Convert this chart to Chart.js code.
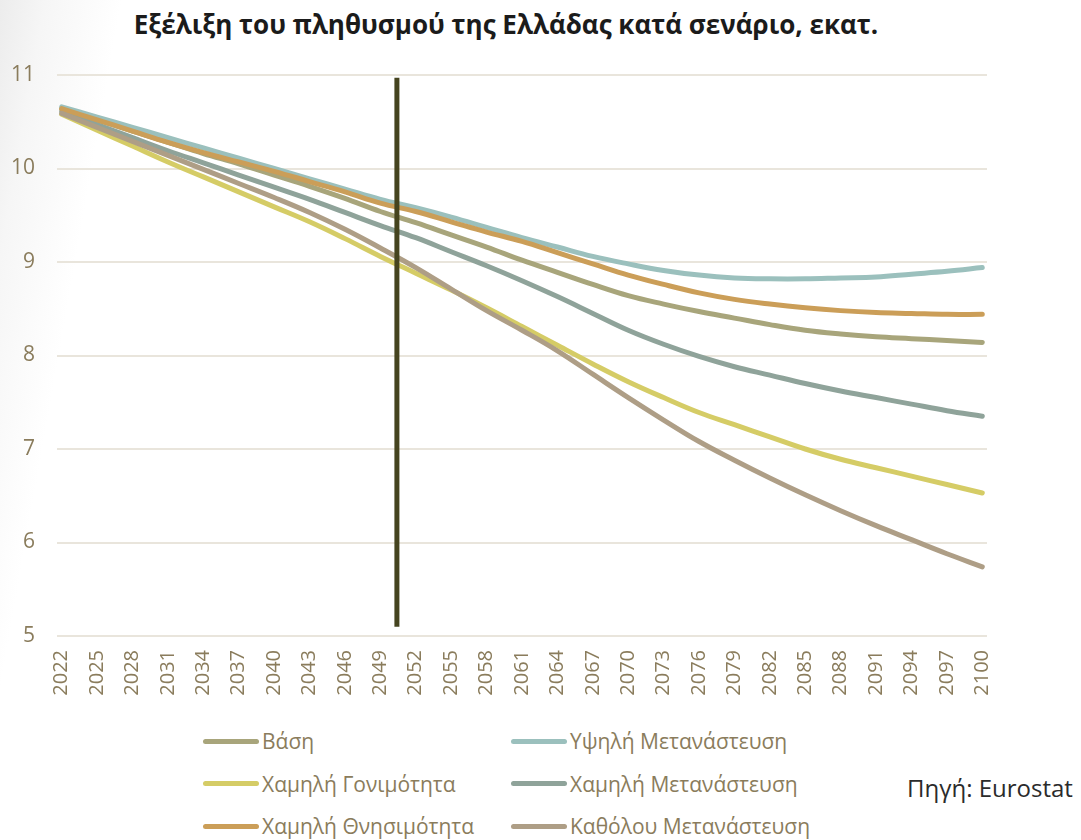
<!DOCTYPE html>
<html lang="el">
<head>
<meta charset="utf-8">
<script src="https://cdn.jsdelivr.net/npm/chart.js@4.4.1/dist/chart.umd.min.js"></script>
<style>
  html, body { margin: 0; padding: 0; }
  body {
    width: 1081px; height: 840px; position: relative; overflow: hidden;
    background: linear-gradient(100deg, #ececec 0px, #f6f6f6 45px, #ffffff 120px);
    font-family: "Open Sans", sans-serif;
  }
  #title {
    position: absolute; left: 0; top: 6px; width: 1012px; text-align: center;
    font-weight: bold; font-size: 26px; color: #1b1b1b;
  }
  #chartBox { position: absolute; left: 0; top: 0; width: 1081px; height: 720px; }
  .leg { position: absolute; display: flex; align-items: center; font-size: 21px; color: #8a7c5c; white-space: nowrap; line-height: 30px; }
  .leg span.ln { display: inline-block; width: 56px; height: 5px; border-radius: 3px; margin-right: 3px; }
  #source { position: absolute; left: 907px; top: 771px; font-size: 24px; color: #2b2b2b; }
</style>
</head>
<body>
<div id="title">Εξέλιξη του πληθυσμού της Ελλάδας κατά σενάριο, εκατ.</div>
<div id="chartBox"><canvas id="popChart"></canvas></div>
<div id="legend"></div>
<div id="source">Πηγή: Eurostat</div>
<script>
      /* ---------- DATA ---------- */
      const years = [
        2022, 2025, 2028, 2031, 2034, 2037, 2040, 2043, 2046, 2049, 2052, 2055,
        2058, 2061, 2064, 2067, 2070, 2073, 2076, 2079, 2082, 2085, 2088, 2091,
        2094, 2097, 2100,
      ];
      const seriesNames = [
        "Βάση",
        "Υψηλή Μετανάστευση",
        "Χαμηλή Γονιμότητα",
        "Χαμηλή Μετανάστευση",
        "Χαμηλή Θνησιμότητα",
        "Καθόλου Μετανάστευση",
      ];
      const baseline = [
        10.64, 10.52, 10.4, 10.28, 10.16, 10.05, 9.93, 9.81, 9.68, 9.54, 9.42,
        9.29, 9.16, 9.02, 8.89, 8.76, 8.64, 8.55, 8.47, 8.4, 8.33, 8.27, 8.23,
        8.2, 8.18, 8.16, 8.14,
      ];
      const highMigration = [
        10.66, 10.55, 10.44, 10.33, 10.22, 10.11, 10.0, 9.89, 9.78, 9.67, 9.58,
        9.48, 9.37, 9.26, 9.16, 9.06, 8.98, 8.91, 8.86, 8.83, 8.82, 8.82, 8.83,
        8.84, 8.87, 8.9, 8.94,
      ];
      const lowFertility = [
        10.58, 10.41, 10.24, 10.07, 9.91, 9.75, 9.59, 9.43, 9.25, 9.06, 8.88,
        8.7, 8.51, 8.31, 8.11, 7.91, 7.72, 7.55, 7.39, 7.26, 7.13, 7.0, 6.89,
        6.8, 6.71, 6.62, 6.53,
      ];
      const lowMigration = [
        10.61, 10.47, 10.33, 10.19, 10.06, 9.93, 9.8, 9.67, 9.53, 9.39, 9.26,
        9.11, 8.96, 8.8, 8.63, 8.45, 8.27, 8.12, 7.99, 7.88, 7.79, 7.7, 7.62,
        7.55, 7.48, 7.41, 7.35,
      ];
      const lowMortality = [
        10.64, 10.52, 10.4, 10.28, 10.17, 10.07, 9.97, 9.86, 9.75, 9.63, 9.54,
        9.43, 9.32, 9.22, 9.1, 8.98, 8.86, 8.76, 8.67, 8.6, 8.55, 8.51, 8.48,
        8.46, 8.45, 8.44, 8.44,
      ];
      const noMigration = [
        10.59, 10.44, 10.29, 10.14, 9.99, 9.84, 9.69, 9.53, 9.35, 9.15, 8.94,
        8.71, 8.48, 8.27, 8.05, 7.8, 7.55, 7.31, 7.08, 6.88, 6.69, 6.51, 6.34,
        6.18, 6.03, 5.88, 5.74,
      ];
      const yTicks = [5, 6, 7, 8, 9, 10, 11];
      // the divider sits just after the 2050 point in the original
      const markerYear = 2050.4;

      /* ---------- COLORS ---------- */
      const seriesColors = [
        "#a8a57b",
        "#9bc0bd",
        "#d5cc66",
        "#8fa39a",
        "#cb9e58",
        "#ae9e86",
      ];
      const tickColor = "#8a7c5c";
      const gridColor = "#e9e5dc";
      const markerColor = "#45441f";

      const seriesData = [
        baseline,
        highMigration,
        lowFertility,
        lowMigration,
        lowMortality,
        noMigration,
      ];

      /* ---------- LEGEND (HTML) ---------- */
      const legendEl = document.getElementById("legend");
      seriesNames.forEach((name, i) => {
        const item = document.createElement("div");
        item.className = "leg";
        item.style.left = (i % 2 === 0 ? 203 : 511) + "px";
        item.style.top = 726 + Math.floor(i / 2) * 42.5 + "px";
        item.innerHTML =
          '<span class="ln" style="background:' +
          seriesColors[i] +
          '"></span>' +
          name;
        legendEl.appendChild(item);
      });

      /* ---------- CHART ---------- */
      const datasets = seriesNames.map((name, i) => ({
        label: name,
        data: years.map((yr, j) => ({ x: yr, y: seriesData[i][j] })),
        borderColor: seriesColors[i],
        backgroundColor: seriesColors[i],
        borderWidth: 5,
        borderCapStyle: "round",
        borderJoinStyle: "round",
        pointRadius: 0,
        tension: 0.4,
        order: seriesNames.length - i,
      }));

      datasets.push({
        label: "2050",
        data: [
          { x: markerYear, y: 5.1 },
          { x: markerYear, y: 10.97 },
        ],
        borderColor: markerColor,
        borderWidth: 5,
        pointRadius: 0,
        order: 0,
      });

      Chart.defaults.font.family = "'Open Sans', sans-serif";

      new Chart(document.getElementById("popChart"), {
        type: "line",
        data: { datasets },
        options: {
          responsive: true,
          maintainAspectRatio: false,
          animation: false,
          layout: { padding: { top: 75, right: 94, left: 0, bottom: 0 } },
          plugins: {
            legend: { display: false },
            tooltip: { enabled: false },
          },
          scales: {
            x: {
              type: "linear",
              min: 2021.6,
              max: 2100.4,
              afterBuildTicks: (scale) => {
                scale.ticks = years.map((v) => ({ value: v }));
              },
              afterFit: (scale) => {
                scale.height = 84;
              },
              grid: { display: false, drawTicks: false },
              border: { display: false },
              ticks: {
                autoSkip: false,
                maxRotation: 90,
                minRotation: 90,
                padding: 14,
                color: tickColor,
                font: { size: 20 },
                callback: (v) => String(v),
              },
            },
            y: {
              min: 5,
              max: 11,
              afterBuildTicks: (scale) => {
                scale.ticks = yTicks.map((v) => ({ value: v }));
              },
              afterFit: (scale) => {
                scale.width = 57;
              },
              grid: { color: gridColor, lineWidth: 2, drawTicks: false },
              border: { display: false },
              ticks: {
                padding: 22,
                color: tickColor,
                font: { size: 21 },
              },
            },
          },
        },
      });
</script>
</body>
</html>
